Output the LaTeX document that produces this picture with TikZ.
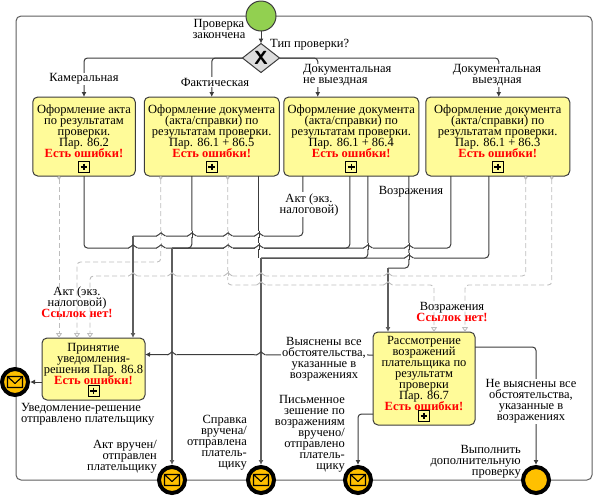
\documentclass[tikz,border=0pt]{standalone}
\usepackage{fontspec}
\setmainfont{Liberation Serif}
\usepackage{xcolor}
\usetikzlibrary{
arrows.meta,
positioning,
shapes.geometric
}
\definecolor{BPMInk}{HTML}{3C3C3C}
\definecolor{BPMMain}{HTML}{5E5E5E}
\definecolor{BPMDash}{HTML}{BDBDBD}
\definecolor{BPMYellow}{HTML}{FFFB99}
\definecolor{BPMGreen}{HTML}{92D050}
\definecolor{BPMOrange}{HTML}{FFC000}
\definecolor{BPMGate}{HTML}{DDDDDD}
\definecolor{BPMRed}{HTML}{FF0000}
\newcommand{\bpmerr}[1]{{\color{BPMRed}\bfseries #1}}
\newcommand{\bpmfont}{\fontsize{12.5}{11}\selectfont\lineskiplimit=-10pt}
\newcommand{\bpmhop}[4]{%
\fill[white] (#1-4.5,#2-5) rectangle (#1+4.5,#2+1.4);
\draw[#4, sharp corners] (#1,#2-5.2) -- (#1,#2+1.6);
\draw[#3, sharp corners, solid] (#1-4.5,#2) .. controls (#1-2.5,#2) and (#1-1.2,#2-3.2) .. (#1,#2-3.2) .. controls (#1+1.2,#2-3.2) and (#1+2.5,#2) .. (#1+4.5,#2);}
\tikzset{
bpmtask/.style={draw=BPMInk, fill=BPMYellow, rounded corners=5pt, align=center, inner sep=0pt, outer sep=0pt,
  line width=1pt, font=\bpmfont},
bpmplus/.style={draw=black, fill=BPMYellow, line width=0.9pt, minimum size=11pt, inner sep=0pt,
  path picture={\draw[line width=1.5pt] (path picture bounding box.center) +(-3.4,0) -- +(3.4,0) +(0,-3.4) -- +(0,3.4);}},
bpmevent/.style={circle, draw=black, fill=BPMOrange, line width=4pt, minimum size=26pt, inner sep=0pt, outer sep=2pt},
bpmmail/.style={bpmevent,
  path picture={\draw[line width=1.1pt, line join=round] (path picture bounding box.center) +(-7.5,-5.5) rectangle +(7.5,5.5)
    +(-7.5,-5.5) -- +(0,1.5) -- +(7.5,-5.5);}},
bpmlabel/.style={align=center, inner sep=1pt, fill=white, font=\bpmfont},
bpmtext/.style={align=center, inner sep=0pt, font=\bpmfont},
bpmframe/.style={draw=BPMMain, line width=1pt, rounded corners=5pt},
bpmflow/.style={draw=BPMInk, line width=1pt, rounded corners=3.5pt},
bpmmain/.style={draw=BPMMain, line width=1.4pt},
bpmarrow/.style={-{Latex[length=5pt,width=5pt]}, draw=BPMInk, line width=1pt, rounded corners=3.5pt},
bpmarrowmain/.style={-{Latex[length=5pt,width=5pt,fill=black]}, draw=BPMMain, line width=1.4pt, rounded corners=3.5pt},
bpmdash/.style={draw=BPMDash, line width=0.9pt, dash pattern=on 5pt off 3pt, rounded corners=3.5pt},
bpmmsg/.style={bpmdash, {Circle[open,length=3.5pt,width=3.5pt]}-{Triangle[open,length=5pt,width=6pt]}}
}
\begin{document}
\begin{tikzpicture}[x=1pt,y=-1pt]
\useasboundingbox (0,0) rectangle (593,496);
\draw[bpmframe] (16,16) rectangle (592,480);

\node[circle, draw=BPMInk, fill=BPMGreen, line width=1pt, minimum size=30pt, inner sep=0pt, outer sep=0pt] (start) at (261,16) {};
\node[diamond, draw=BPMInk, fill=BPMGate, line width=1pt, minimum width=37pt, minimum height=29pt, inner sep=0pt, outer sep=0pt,
  font=\fontsize{19}{19}\sffamily\bfseries, below=12.5pt of start] (gate) {X};

\node[bpmtask, minimum width=102.5pt, minimum height=79pt] (t1) at (84,136.5) {Оформление акта\\по результатам\\проверки.\\Пар. 86.2\\\bpmerr{Есть ошибки!}\\~};
\node[bpmtask, minimum width=135pt, minimum height=79pt, right=9pt of t1] (t2) {Оформление документа\\(акта/справки) по\\результатам проверки.\\Пар. 86.1 + 86.5\\\bpmerr{Есть ошибки!}\\~};
\node[bpmtask, minimum width=135pt, minimum height=79pt, right=4.5pt of t2] (t3) {Оформление документа\\(акта/справки) по\\результатам проверки.\\Пар. 86.1 + 86.4\\\bpmerr{Есть ошибки!}\\~};
\node[bpmtask, minimum width=144pt, minimum height=79pt, right=7pt of t3] (t4) {Оформление документа\\(акта/справки) по\\результатам проверки.\\Пар. 86.1 + 86.3\\\bpmerr{Есть ошибки!}\\~};
\node[bpmtask, minimum width=103pt, minimum height=62pt] (t5) at (93.5,369) {Принятие\\уведомления-\\решения Пар. 86.8\\\bpmerr{Есть ошибки!}\\~};
\node[bpmtask, minimum width=102pt, minimum height=93pt] (t6) at (424,378.5) {Рассмотрение\\возражений\\плательщика по\\результатм\\проверки\\Пар. 86.7\\\bpmerr{Есть ошибки!}\\~};

\foreach \t in {t1,t2,t3,t4,t5,t6}
  \node[bpmplus, above=3pt of \t.south] (plus\t) {};

\node[bpmmail] (e1) at (15,382) {};
\node[bpmmail] (e2) at (172,480) {};
\node[bpmmail] (e3) at (261,480) {};
\node[bpmmail] (e4) at (358,480) {};
\node[bpmevent] (e5) at (536,480) {};

% ports on the task edges
\coordinate (t2a) at ([xshift=-20pt]t2.south);
\coordinate (t2b) at ([xshift=47pt]t2.south);
\coordinate (t2m) at ([xshift=-51pt]t2.south);
\coordinate (t2n) at ([xshift=16pt]t2.south);
\coordinate (t3a) at ([xshift=-48.5pt]t3.south);
\coordinate (t3b) at ([xshift=-1.5pt]t3.south);
\coordinate (t3c) at ([xshift=16.5pt]t3.south);
\coordinate (t3d) at ([xshift=57.5pt]t3.south);
\coordinate (t4a) at ([xshift=-47pt]t4.south);
\coordinate (t4b) at ([xshift=-9pt]t4.south);
\coordinate (t4m) at ([xshift=28pt]t4.south);
\coordinate (t4n) at ([xshift=54pt]t4.south);
\coordinate (t1m) at ([xshift=-25pt]t1.south);
\coordinate (t5a) at ([xshift=39.5pt]t5.north);
\coordinate (t5m) at ([xshift=-34.5pt]t5.north);
\coordinate (t5n) at ([xshift=-16.5pt]t5.north);
\coordinate (t5o) at ([xshift=-3.5pt]t5.north);
\coordinate (t6a) at ([xshift=-36pt]t6.north);
\coordinate (t6m) at ([xshift=10pt]t6.north);
\coordinate (t6n) at ([xshift=41pt]t6.north);
\coordinate (lvlA) at (0,236);
\coordinate (lvlB) at (0,248);
\coordinate (lvlC) at (0,258);
\coordinate (lvlD) at (0,268);
\coordinate (lvlE) at (0,262);
\coordinate (lvlF) at (0,276);
\coordinate (lvlG) at (0,285);

% dashed message flows
\draw[bpmmsg] (t1m) -- (t5m);
\draw[bpmmsg] (t2m) |- (t5n |- lvlE) -- (t5n);
\draw[bpmmsg] (t4m) |- (t5o |- lvlF) -- (t5o);
\draw[bpmmsg] (t2n) |- (t6m |- lvlG) -- (t6m);
\draw[bpmmsg] (t4n) |- (t6n |- lvlG) -- (t6n);

% sequence flows
\draw[bpmarrow] (start) -- (gate);
\draw[bpmarrow] (gate.west) -| (t1.north);
\draw[bpmarrow] (gate.west) -| (t2.north);
\draw[bpmarrow] (gate.east) -| ([xshift=-33.5pt]t3.north);
\draw[bpmarrow] (gate.east) -| ([xshift=1pt]t4.north);
\draw[bpmflow] (t3a) |- (t5a |- lvlA);
\draw[bpmarrowmain] (t5a |- lvlA) -- (t5a);
\draw[bpmflow] (t4a) |- (e2.north |- lvlB);
\draw[bpmflow] (t3b) |- (e2.north |- lvlB);
\draw[bpmflow] (t2a) |- (e2.north |- lvlB);
\draw[bpmflow] (t1.south) |- (e2.north |- lvlB);
\draw[bpmarrowmain] (e2.north |- lvlB) -- (e2.north);
\draw[bpmflow] (t4b) |- (e3.north |- lvlC);
\draw[bpmflow] (t3c) |- (e3.north |- lvlC);
\draw[bpmflow] (t2b) -- (t2b |- lvlC);
\draw[bpmarrowmain] (e3.north |- lvlC) -- (e3.north);
\draw[bpmflow] (t3d) |- (t6a |- lvlD);
\draw[bpmarrowmain] (t6a |- lvlD) -- (t6a);
\draw[bpmarrow] ([yshift=23.5pt]t6.west) -- ([yshift=14.5pt]t5.east);
\draw[bpmarrow] ([yshift=-35.5pt]t6.west) -| (e4.north);
\draw[bpmarrow] (t5.west |- e1) -- (e1);
\draw[bpmarrow] ([yshift=31.5pt]t6.east) -| (e5.north);

% line hops
\foreach \x/\v in {161/bpmdash,192/bpmflow,228/bpmdash,259/bpmflow}
  \bpmhop{\x}{236}{bpmflow}{\v};
\foreach \x/\v in {133/bpmmain,161/bpmdash,228/bpmdash,259/bpmflow,368/bpmflow,409/bpmflow}
  \bpmhop{\x}{248}{bpmflow}{\v};
\bpmhop{409}{258}{bpmflow}{bpmflow};
\foreach \x/\v in {133/bpmmain,172/bpmmain,228/bpmdash,261/bpmmain,388/bpmmain}
  \bpmhop{\x}{276}{bpmdash}{\v};
\foreach \x/\v in {261/bpmmain,388/bpmmain}
  \bpmhop{\x}{285}{bpmdash}{\v};
\foreach \x/\v in {172/bpmmain,261/bpmmain}
  \bpmhop{\x}{355}{bpmflow}{\v};

% labels
\node[bpmtext] (lblStart) at (219,29) {Проверка\\закончена};
\node[bpmtext, anchor=west] (lblGate) at (270,45) {Тип проверки?};
\node[bpmlabel] (lblKam) at (84,79) {Камеральная};
\node[bpmlabel] (lblFak) at (215,82) {Фактическая};
\node[bpmlabel, align=left, anchor=west] (lblDocA) at (302,75.5) {Документальная\\не выездная};
\node[bpmlabel] (lblDocB) at (497,75.5) {Документальная\\выездная};
\node[bpmlabel] (lblAktA) at (309,204.5) {Акт (экз.\\налоговой)};
\node[bpmtext] (lblObj) at (411,192) {Возражения};
\node[bpmtext] (lblAktB) at (77,302) {Акт (экз.\\налоговой)\\\bpmerr{Ссылок нет!}};
\node[bpmtext] (lblObjB) at (452,311.5) {Возражения\\\bpmerr{Ссылок нет!}};
\node[bpmlabel] (lblYes) at (324,359.5) {Выяснены все\\обстоятельства,\\указанные в\\возражениях};
\node[bpmlabel] (lblNo) at (531,401.5) {Не выяснены все\\обстоятельства,\\указанные в\\возражениях};
\node[bpmtext, align=left, anchor=west] (lblE1) at (21,414.5) {Уведомление-решение\\отправлено плательщику};
\node[bpmtext, align=right, anchor=east] (lblE2) at (157,456.5) {Акт вручен/\\отправлен\\плательщику};
\node[bpmtext, align=right, anchor=east] (lblE3) at (247,442.5) {Справка\\вручена/\\отправлена\\платель-\\щику};
\node[bpmtext, align=right, anchor=east] (lblE4) at (345,434) {Письменное\\зешение по\\возражениям\\вручено/\\отправлено\\платель-\\щику};
\node[bpmtext, align=right, anchor=east] (lblE5) at (521,461.5) {Выполнить\\дополнительную\\проверку};
\end{tikzpicture}
\end{document}
